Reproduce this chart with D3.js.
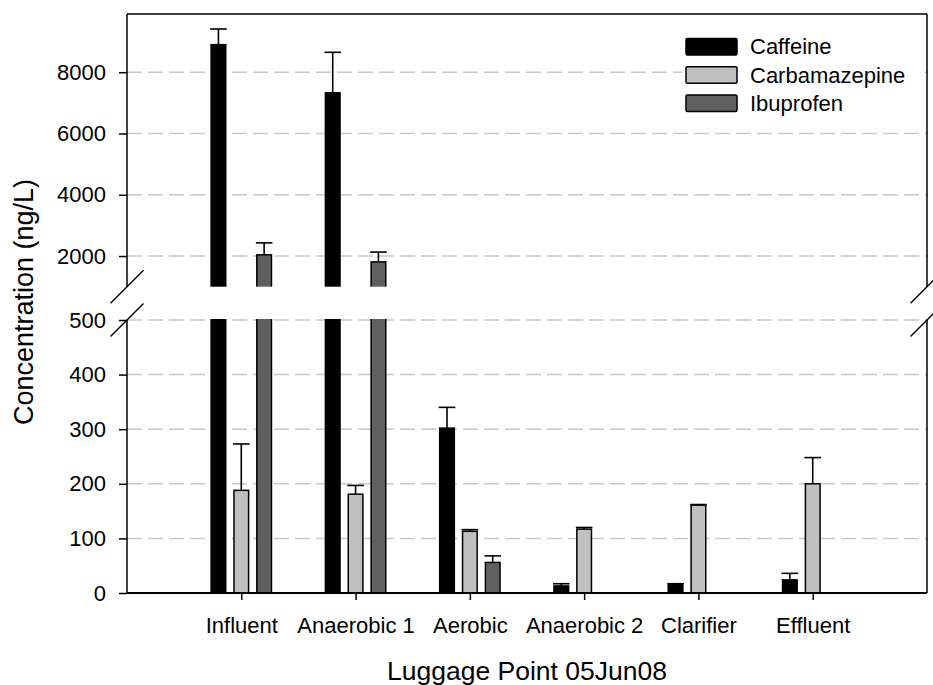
<!DOCTYPE html>
<html>
<head>
<meta charset="utf-8">
<script src="https://cdn.jsdelivr.net/npm/d3@7"></script>
<style>
  body { margin: 0; background: #fff; }
  svg { display: block; font-family: Arial, "Liberation Sans", sans-serif; }
</style>
</head>
<body>
<svg id="chart" width="933" height="685"></svg>
<script>
// Values
const categories = ["Influent", "Anaerobic 1", "Aerobic", "Anaerobic 2", "Clarifier", "Effluent"];
const series = ["Caffeine", "Carbamazepine", "Ibuprofen"];
const caffeine = [8900, 7330, 302, 13, 15, 24];
const caffeineErr = [510, 1320, 38, 4, 2, 12];
const carbamazepine = [188, 181, 113, 117, 161, 200];
const carbamazepineErr = [85, 16, 3, 3, 1, 48];
const ibuprofen = [2040, 1810, 56, null, null, null];
const ibuprofenErr = [390, 320, 12, null, null, null];
const yTicks = [0, 100, 200, 300, 400, 500, 2000, 4000, 6000, 8000];
const colors = ["#000000", "#c0c0c0", "#606060"];

const MARGIN = {TOP: 14, RIGHT: 6, BOTTOM: 92, LEFT: 127};
const WIDTH = 933 - MARGIN.LEFT - MARGIN.RIGHT;   // 800
const HEIGHT = 685 - MARGIN.TOP - MARGIN.BOTTOM;  // 579

const svg = d3.select("#chart");
const g = svg.append("g").attr("transform", `translate(${MARGIN.LEFT},${MARGIN.TOP})`);

// broken axis: 0-500 below the break, 1000-9900 above it
const y = d3.scaleLinear()
	.domain([0, 500, 1000, 9900])
	.range([HEIGHT, HEIGHT - 273, HEIGHT - 306.3, 0]);

const x = d3.scalePoint().domain(categories).range([0, WIDTH]).padding(1);
const step = x.step();
const xInner = d3.scaleBand().domain(series)
	.range([-0.3 * step, 0.3 * step])
	.paddingInner(0.36).paddingOuter(0.18);

const values = [caffeine, carbamazepine, ibuprofen];
const errors = [caffeineErr, carbamazepineErr, ibuprofenErr];
const bars = [];
series.forEach((s, si) => {
	categories.forEach((c, ci) => {
		if (values[si][ci] == null) return;
		bars.push({series: s, cat: c, value: values[si][ci], err: errors[si][ci], color: colors[si]});
	});
});

// dashed gridlines
g.append("g")
	.selectAll("line")
	.data(yTicks.filter(d => d > 0))
	.enter().append("line")
	.attr("x1", 0).attr("x2", WIDTH)
	.attr("y1", d => y(d)).attr("y2", d => y(d))
	.attr("stroke", "#c8c8c8")
	.attr("stroke-width", 1.5)
	.attr("stroke-dasharray", "15,6");

// bars
g.append("g")
	.selectAll("rect")
	.data(bars)
	.enter().append("rect")
	.attr("x", d => x(d.cat) + xInner(d.series))
	.attr("width", xInner.bandwidth())
	.attr("y", d => y(d.value))
	.attr("height", d => y(0) - y(d.value))
	.attr("fill", d => d.color)
	.attr("stroke", "#000")
	.attr("stroke-width", 1.5);

// error bars (upper side only)
const eb = g.append("g").attr("stroke", "#000").attr("stroke-width", 1.6);
eb.selectAll(".stem")
	.data(bars.filter(d => d.err))
	.enter().append("line")
	.attr("class", "stem")
	.attr("x1", d => x(d.cat) + xInner(d.series) + xInner.bandwidth() / 2)
	.attr("x2", d => x(d.cat) + xInner(d.series) + xInner.bandwidth() / 2)
	.attr("y1", d => y(d.value))
	.attr("y2", d => y(d.value + d.err));
eb.selectAll(".cap")
	.data(bars.filter(d => d.err))
	.enter().append("line")
	.attr("class", "cap")
	.attr("x1", d => x(d.cat) + xInner(d.series) - 1)
	.attr("x2", d => x(d.cat) + xInner(d.series) + xInner.bandwidth() + 1)
	.attr("y1", d => y(d.value + d.err))
	.attr("y2", d => y(d.value + d.err));

// white gap of the axis break
g.append("rect")
	.attr("x", -1).attr("width", WIDTH + 2)
	.attr("y", y(1000)).attr("height", y(500) - y(1000) - 1)
	.attr("fill", "#fff");

// frame, split at the break
const frame = g.append("g").attr("stroke", "#000").attr("stroke-width", 1.5);
[0, WIDTH].forEach(xx => {
	frame.append("line").attr("x1", xx).attr("x2", xx).attr("y1", 0).attr("y2", y(1000));
	frame.append("line").attr("x1", xx).attr("x2", xx).attr("y1", y(500)).attr("y2", HEIGHT);
	// break marks
	[y(1000), y(500)].forEach(yy => {
		frame.append("line")
			.attr("x1", xx - 16.5).attr("y1", yy + 16.5)
			.attr("x2", xx + 16.5).attr("y2", yy - 16.5);
	});
});
frame.append("line").attr("x1", 0).attr("x2", WIDTH).attr("y1", 0).attr("y2", 0);
frame.append("line").attr("x1", 0).attr("x2", WIDTH).attr("y1", HEIGHT).attr("y2", HEIGHT)
	.attr("stroke-width", 2);

// y axis
const yAxis = g.append("g")
	.call(d3.axisLeft(y).tickValues(yTicks).tickSize(8).tickPadding(13).tickFormat(d3.format("d")));
yAxis.select(".domain").remove();
yAxis.selectAll("line").attr("stroke", "#000").attr("stroke-width", 1.5);
yAxis.selectAll("text").attr("font-size", 22).attr("fill", "#000")
	.attr("font-family", "Arial, 'Liberation Sans', sans-serif");

// x axis
const xAxis = g.append("g")
	.attr("transform", `translate(0,${HEIGHT})`)
	.call(d3.axisBottom(x).tickSize(7));
xAxis.select(".domain").remove();
xAxis.selectAll("line").attr("stroke", "#000").attr("stroke-width", 1.5);
xAxis.selectAll("text").attr("font-size", 22).attr("fill", "#000")
	.attr("font-family", "Arial, 'Liberation Sans', sans-serif")
	.attr("y", 40).attr("dy", 0);

// axis titles
svg.append("text")
	.attr("x", MARGIN.LEFT + WIDTH / 2).attr("y", 680)
	.attr("text-anchor", "middle")
	.attr("font-size", 26.5)
	.text("Luggage Point 05Jun08");

svg.append("text")
	.attr("transform", "translate(33,302) rotate(-90)")
	.attr("text-anchor", "middle")
	.attr("font-size", 27)
	.text("Concentration (ng/L)");

// legend
const legend = svg.append("g");
legend.append("rect")
	.attr("x", 682).attr("y", 32).attr("width", 238).attr("height", 84)
	.attr("fill", "#fff");
const item = legend.selectAll(".item")
	.data(series)
	.enter().append("g")
	.attr("class", "item")
	.attr("transform", (d, i) => `translate(686,${46.7 + i * 28.3})`);
item.append("rect")
	.attr("x", 0).attr("y", -8.3).attr("width", 51).attr("height", 16.6)
	.attr("rx", 1.5)
	.attr("fill", (d, i) => colors[i])
	.attr("stroke", "#000").attr("stroke-width", 1.5);
item.append("text")
	.attr("x", 64).attr("dy", "0.35em")
	.attr("font-size", 22)
	.text(d => d);
</script>
</body>
</html>
